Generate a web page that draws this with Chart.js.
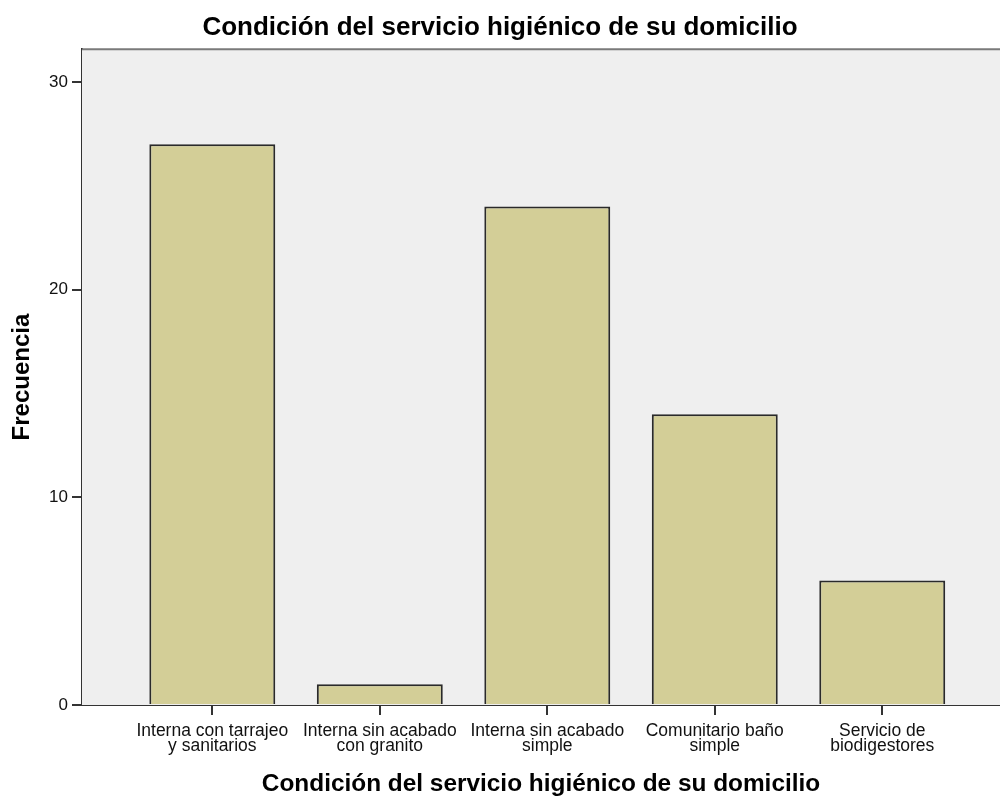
<!DOCTYPE html>
<html>
<head>
<meta charset="utf-8">
<script src="https://cdn.jsdelivr.net/npm/chart.js@4.4.1/dist/chart.umd.min.js"></script>
<style>
  html, body { margin: 0; padding: 0; background: #ffffff; }
  #wrap { width: 1000px; height: 796px; position: relative; }
</style>
</head>
<body>
<div id="wrap"><canvas id="c"></canvas></div>
<script>
const chartTitle = "Condición del servicio higiénico de su domicilio";
const xAxisTitle = "Condición del servicio higiénico de su domicilio";
const yAxisTitle = "Frecuencia";
const categories = [
  ["Interna con tarrajeo", "y sanitarios"],
  ["Interna sin acabado", "con granito"],
  ["Interna sin acabado", "simple"],
  ["Comunitario baño", "simple"],
  ["Servicio de", "biodigestores"]
];
const frequencies = [27, 1, 24, 14, 6];
const yTickValues = [0, 10, 20, 30];

const FONT = "'Liberation Sans', Arial, Helvetica, sans-serif";

const plotDecor = {
  id: 'plotDecor',
  beforeDatasetsDraw(chart) {
    const { ctx, chartArea: a } = chart;
    ctx.save();
    ctx.fillStyle = '#EFEFEF';
    ctx.fillRect(a.left, a.top, a.right - a.left, a.bottom - a.top);
    ctx.restore();
  },
  afterDraw(chart) {
    const { ctx, chartArea: a } = chart;
    ctx.save();
    ctx.strokeStyle = '#7a7a7a';
    ctx.lineWidth = 2;
    ctx.beginPath();
    ctx.moveTo(a.left, a.top);
    ctx.lineTo(a.right, a.top);
    ctx.stroke();
    ctx.restore();
  }
};

const points = frequencies.map((v, i) => ({ x: i + 1, y: v }));

new Chart(document.getElementById('c'), {
  type: 'bar',
  data: {
    datasets: [{
      data: points,
      backgroundColor: '#D3CE97',
      borderColor: '#2a2a2a',
      borderWidth: 2,
      categoryPercentage: 1,
      barPercentage: 0.752
    }]
  },
  options: {
    responsive: true,
    maintainAspectRatio: false,
    animation: false,
    layout: { padding: 0 },
    plugins: {
      legend: { display: false },
      tooltip: { enabled: false },
      title: {
        display: true,
        text: chartTitle,
        color: '#000000',
        font: { family: FONT, size: 26, weight: 'bold', lineHeight: 1.2 },
        padding: { top: 12, bottom: 6 }
      }
    },
    scales: {
      x: {
        type: 'linear',
        offset: false,
        min: 0.222,
        max: 5.703,
        afterBuildTicks(scale) {
          scale.ticks = categories.map((c, i) => ({ value: i + 1 }));
        },
        afterFit(scale) { scale.height = 91; },
        grid: {
          offset: false,
          drawOnChartArea: false,
          drawTicks: true,
          tickLength: 10,
          color: '#333333',
          lineWidth: 2
        },
        border: { display: true, color: '#333333', width: 2 },
        ticks: {
          autoSkip: false,
          maxRotation: 0,
          minRotation: 0,
          padding: 8.5,
          color: '#111111',
          font: { family: FONT, size: 17.5, lineHeight: 0.86 },
          callback(value) {
            const idx = Math.round(value) - 1;
            return categories[idx] || '';
          }
        },
        title: {
          display: true,
          text: xAxisTitle,
          color: '#000000',
          font: { family: FONT, size: 24.4, weight: 'bold', lineHeight: 1.0 },
          padding: { top: 0, bottom: 0 }
        }
      },
      y: {
        type: 'linear',
        min: 0,
        max: 31.58,
        afterBuildTicks(scale) {
          scale.ticks = yTickValues.map(v => ({ value: v }));
        },
        afterFit(scale) { scale.width = 82; },
        grid: {
          drawOnChartArea: false,
          drawTicks: true,
          tickLength: 10,
          color: '#333333',
          lineWidth: 2
        },
        border: { display: true, color: '#333333', width: 2 },
        ticks: {
          padding: 4,
          color: '#111111',
          font: { family: FONT, size: 17 }
        },
        title: {
          display: true,
          text: yAxisTitle,
          color: '#000000',
          font: { family: FONT, size: 24, weight: 'bold', lineHeight: 1.2 },
          padding: { top: 8, bottom: 0 }
        }
      }
    }
  },
  plugins: [plotDecor]
});
</script>
</body>
</html>
